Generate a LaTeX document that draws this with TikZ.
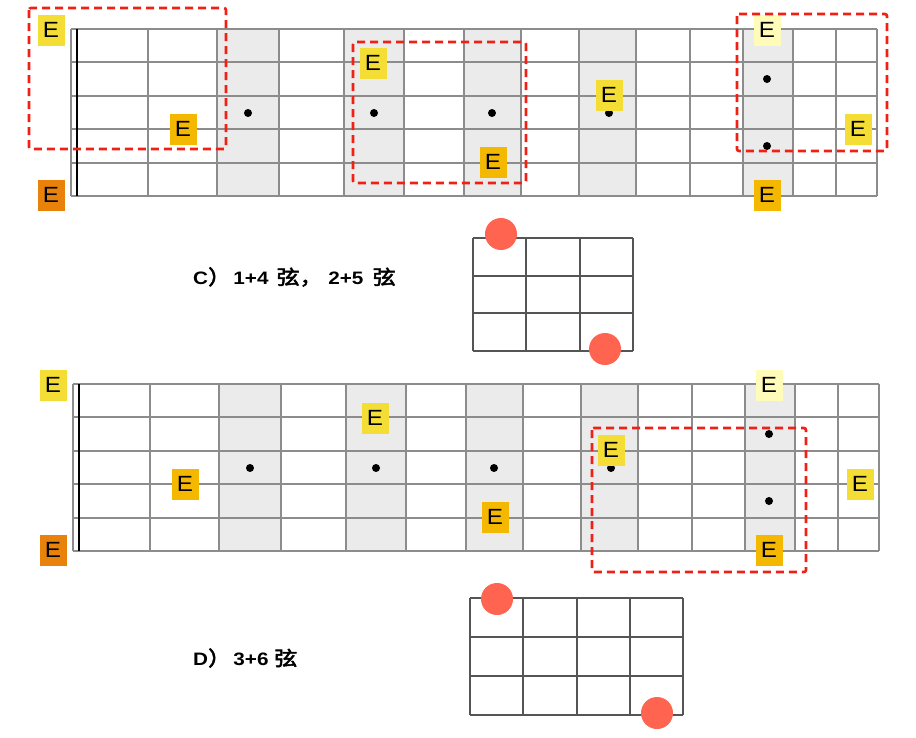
\documentclass[tikz,border=0pt]{standalone}
\usepackage{fontspec}
\setmainfont{Liberation Sans}
\newfontfamily\cjk[AutoFakeBold=2.5]{Noto Sans CJK SC}
\usepackage{graphicx}
\usetikzlibrary{positioning}

\definecolor{eorange}{RGB}{232,130,10}
\definecolor{eamber}{RGB}{245,184,0}
\definecolor{eyellow}{RGB}{244,222,53}
\definecolor{epale}{RGB}{255,251,184}
\definecolor{boxred}{RGB}{240,32,20}
\definecolor{fingerred}{RGB}{255,100,80}
\definecolor{fretgray}{RGB}{140,140,140}
\definecolor{inlaygray}{RGB}{235,235,235}
\definecolor{gridgray}{RGB}{85,85,85}

\newcommand{\noteE}{\scalebox{1.1}[1]{E}}
\newcommand{\zh}[1]{{\cjk\fontsize{20}{22}\selectfont #1}}

% one fretboard, #1 = prefix of the node names
\newcommand{\fretboard}[1]{%
  % INLAY FRETS
  \foreach \a/\b in {217/279,344/404,464/521,579/636,743/793}
    \fill[inlaygray] (\a,29) rectangle (\b,196);
  % STRINGS
  \foreach \y in {29,62,96,129,163,196}
    \draw[fretline] (71,\y) -- (877,\y);
  % FRETS
  \foreach \x in {71,148,217,279,344,404,464,521,579,636,690,743,793,836,877}
    \draw[fretline] (\x,29) -- (\x,196);
  \draw[nut] (77,29) -- (77,196);
  % DOTS
  \foreach \x/\y [count=\i] in {248/113,374/113,492/113,609/113,767/79,767/146}
    \node[fretdot] (#1-dot\i) at (\x,\y) {};
  % E NOTES
  \foreach \s/\f/\x/\y/\c in {1/0/51/30/eyellow, 6/0/51/195/eorange,
      4/2/183/129/eamber, 2/5/373/63/eyellow, 5/7/493/162/eamber,
      3/9/609/95/eyellow, 1/12/767/30/epale, 4/14/858/129/eyellow,
      6/12/767/195/eamber}
    \node[note, fill=\c] (#1-\s-\f) at (\x,\y) {\noteE};
}

\begin{document}
\begin{tikzpicture}[x=1pt, y=-1pt]
    \tikzset{
        fretline/.style={draw=fretgray, line width=1.2pt},
        nut/.style={draw=black, line width=2.8pt},
        fretdot/.style={circle, fill=black, minimum size=8pt, inner sep=0pt},
        note/.style={rectangle, minimum width=27pt, minimum height=31pt, inner sep=0pt,
            font=\fontsize{22}{22}\selectfont},
        shapebox/.style={draw=boxred, line width=2.6pt, dash pattern=on 8pt off 5pt,
            rounded corners=2pt},
        chordgrid/.style={draw=gridgray, line width=2pt},
        finger/.style={circle, fill=fingerred, minimum size=32pt, inner sep=0pt},
        caption/.style={anchor=west, inner sep=0pt,
            font=\fontsize{18}{20}\selectfont\bfseries}
    }
    \useasboundingbox (0,0) rectangle (916,737);

    % FRETBOARD C
    \fretboard{up}
    \draw[shapebox] (29,8) rectangle (226,149);
    \draw[shapebox] (353,42) rectangle (526,183);
    \draw[shapebox] (737,14) rectangle (887,151);

    % CAPTION C
    \node[caption] (capC) at (193,277)
        {\scalebox{1.15}[1]{C\zh{）}\hspace{2pt}1+4\hspace{7pt}\zh{弦，}\hspace{5pt}2+5\hspace{8pt}\zh{弦}}};

    % CHORD SHAPE C
    \foreach \x in {473,526.3,579.7,633}
        \draw[chordgrid] (\x,238) -- (\x,351);
    \foreach \y in {238,275.7,313.3,351}
        \draw[chordgrid] (473,\y) -- (633,\y);
    \node[finger] (cA) at (501,234) {};
    \node[finger] (cB) at (605,349) {};

    % FRETBOARD D
    \begin{scope}[shift={(2,355)}]
        \fretboard{low}
    \end{scope}
    \draw[shapebox] (592,428) rectangle (806,572);

    % CAPTION D
    \node[caption] (capD) at (193,658)
        {\scalebox{1.15}[1]{D\zh{）}\hspace{2pt}3+6\hspace{5pt}\zh{弦}}};

    % CHORD SHAPE D
    \foreach \x in {470,523.3,576.7,630,683.3}
        \draw[chordgrid] (\x,598) -- (\x,715);
    \foreach \y in {598,637,676,715}
        \draw[chordgrid] (470,\y) -- (683.3,\y);
    \node[finger] (dA) at (497,599) {};
    \node[finger] (dB) at (657,713) {};

\end{tikzpicture}
\end{document}
